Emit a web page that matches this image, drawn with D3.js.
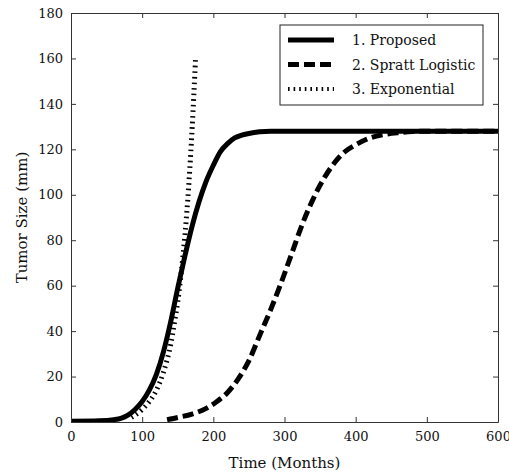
<!DOCTYPE html>
<html>
<head>
<meta charset="utf-8">
<script src="https://cdn.jsdelivr.net/npm/d3@7"></script>
<style>
  body { margin: 0; background: #fff; }
  text { font-family: "DejaVu Serif", "Liberation Serif", serif; fill: #111; }
</style>
</head>
<body>
<svg width="509" height="476"></svg>
<script>
// curve 1: proposed model
var propT = [0, 40, 60, 70, 80, 90, 100, 110, 120, 130, 140, 150, 160, 170, 180, 190, 200, 210, 220, 230, 240, 250, 265, 280, 300, 400, 500, 600];
var propV = [0.3, 0.5, 1, 1.6, 3, 5.5, 9, 14, 21, 31, 44, 59, 73, 86, 97, 106, 113, 119, 122.5, 125, 126.3, 127, 127.7, 128, 128, 128, 128, 128];
// curve 2: Spratt logistic
var spratT = [135, 150, 170, 190, 205, 220, 235, 250, 265, 280, 295, 310, 325, 340, 355, 370, 385, 400, 420, 440, 460, 480, 500, 550, 600];
var spratV = [1, 2, 3.5, 6, 9, 13, 19, 27, 38, 49, 61, 74, 87, 98, 107, 114, 119, 122, 125, 126.5, 127.3, 127.8, 128, 128, 128];
// curve 3: exponential
var expT = [85, 90, 100, 110, 120, 130, 140, 145, 150, 155, 160, 165, 170, 175];
var expV = [2, 3, 5.5, 9, 14, 22, 34, 43, 53, 66, 82, 102, 128, 160];

var xTicks = [0, 100, 200, 300, 400, 500, 600];
var yTicks = [0, 20, 40, 60, 80, 100, 120, 140, 160, 180];
var legendLabels = ["1. Proposed", "2. Spratt Logistic", "3. Exponential"];

var svg = d3.select("svg");
var pLeft = 71, pRight = 498, pTop = 13, pBottom = 422;

var x = d3.scaleLinear().domain([0, 600]).range([pLeft, pRight]);
var y = d3.scaleLinear().domain([0, 180]).range([pBottom, pTop]);

var axisColor = "#333";

svg.append("defs").append("clipPath").attr("id", "clip")
  .append("rect").attr("x", pLeft).attr("y", pTop)
  .attr("width", pRight - pLeft).attr("height", pBottom - pTop);

var g = svg.append("g").attr("clip-path", "url(#clip)");

function series(ts, vs) {
  return ts.map(function (t, i) { return [t, vs[i]]; });
}

var line = d3.line()
  .x(function (d) { return x(d[0]); })
  .y(function (d) { return y(d[1]); })
  .curve(d3.curveMonotoneX);

var styles = [
  { data: series(propT, propV), dash: null, width: 5 },
  { data: series(spratT, spratV), dash: "11,5", width: 5 },
  { data: series(expT, expV), dash: "1.6,4", width: 5 }
];

styles.forEach(function (s) {
  g.append("path")
    .attr("d", line(s.data))
    .attr("fill", "none")
    .attr("stroke", "#000")
    .attr("stroke-width", s.width)
    .attr("stroke-dasharray", s.dash);
});

// axes, ticks inside on all four sides
svg.append("g")
  .attr("transform", "translate(0," + pBottom + ")")
  .call(d3.axisBottom(x).tickValues(xTicks).tickSizeInner(-5).tickSizeOuter(0).tickPadding(10))
  .call(function (a) {
    a.select(".domain").attr("stroke", axisColor);
    a.selectAll("line").attr("stroke", axisColor);
    a.selectAll("text").attr("font-size", 13).attr("fill", "#111");
  });

svg.append("g")
  .attr("transform", "translate(" + pLeft + ",0)")
  .call(d3.axisLeft(y).tickValues(yTicks).tickSizeInner(-5).tickSizeOuter(0).tickPadding(8))
  .call(function (a) {
    a.select(".domain").attr("stroke", axisColor);
    a.selectAll("line").attr("stroke", axisColor);
    a.selectAll("text").attr("font-size", 13).attr("fill", "#111");
  });

svg.append("g")
  .attr("transform", "translate(0," + pTop + ")")
  .call(d3.axisTop(x).tickValues(xTicks).tickSizeInner(-5).tickSizeOuter(0).tickFormat(""))
  .call(function (a) {
    a.select(".domain").attr("stroke", axisColor);
    a.selectAll("line").attr("stroke", axisColor);
  });

svg.append("g")
  .attr("transform", "translate(" + pRight + ",0)")
  .call(d3.axisRight(y).tickValues(yTicks).tickSizeInner(-5).tickSizeOuter(0).tickFormat(""))
  .call(function (a) {
    a.select(".domain").attr("stroke", axisColor);
    a.selectAll("line").attr("stroke", axisColor);
  });

// axis titles
svg.append("text")
  .attr("x", (pLeft + pRight) / 2)
  .attr("y", 468)
  .attr("text-anchor", "middle")
  .attr("font-size", 15)
  .text("Time (Months)");

svg.append("text")
  .attr("transform", "translate(27," + ((pTop + pBottom) / 2) + ") rotate(-90)")
  .attr("text-anchor", "middle")
  .attr("font-size", 15)
  .text("Tumor Size (mm)");

// legend
var lg = svg.append("g").attr("transform", "translate(280,25)");
lg.append("rect")
  .attr("width", 203).attr("height", 80)
  .attr("fill", "#fff").attr("stroke", "#222").attr("stroke-width", 1);

legendLabels.forEach(function (lab, i) {
  var yy = 15 + i * 24.5;
  lg.append("line")
    .attr("x1", 8).attr("x2", 54)
    .attr("y1", yy).attr("y2", yy)
    .attr("stroke", "#000")
    .attr("stroke-width", i == 2 ? 4 : 5)
    .attr("stroke-dasharray", styles[i].dash);
  lg.append("text")
    .attr("x", 72).attr("y", yy + 5)
    .attr("font-size", 14)
    .text(lab);
});
</script>
</body>
</html>
